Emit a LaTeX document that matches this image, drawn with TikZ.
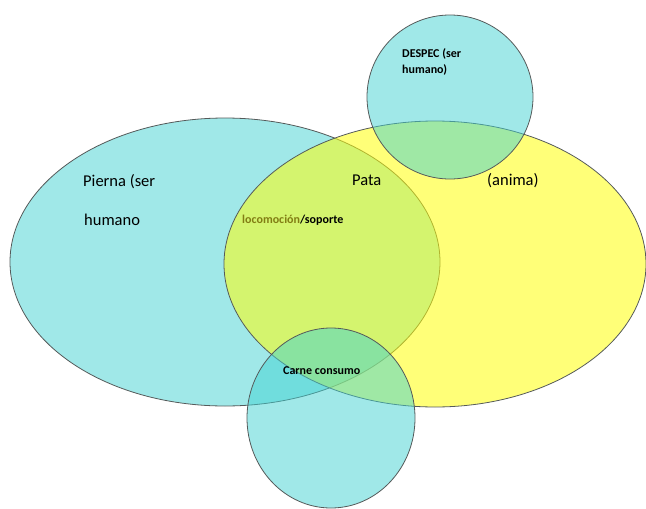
\documentclass[tikz,border=0pt]{standalone}
\usepackage{fontspec}
\setmainfont{Carlito}
\usetikzlibrary{positioning}
\definecolor{venncyan}{RGB}{65,210,210}
\definecolor{vennyellow}{RGB}{255,255,10}
\definecolor{vennline}{RGB}{85,90,90}
\definecolor{vennolive}{RGB}{130,125,20}

\begin{document}
\begin{tikzpicture}[
          x=1pt, y=-1pt,
          every node/.style={font=\fontsize{16.5}{19}\selectfont, anchor=base west, inner sep=0pt},
          small/.style={font=\fontsize{12}{14}\selectfont\bfseries},
          set/.style={draw=vennline, line width=0.8pt},
        ]
        \useasboundingbox (0,0) rectangle (646,509);

        % Main sets
        \filldraw[set, fill=venncyan, fill opacity=0.5] (225,262) ellipse [x radius=215pt, y radius=144pt];
        \filldraw[set, fill=vennyellow, fill opacity=0.55] (435,264) ellipse [x radius=211pt, y radius=143pt];

        % Small circles
        \foreach \cx/\cy/\rx/\ry in {450/97/83/82, 331/418/84/90} {
          \filldraw[set, fill=venncyan, fill opacity=0.5] (\cx,\cy) ellipse [x radius=\rx pt, y radius=\ry pt];
        }

        % Labels
        \node (pierna) at (83,186) {Pierna (ser};
        \node (humano) at (84,225) {humano};
        \node (pata) at (352,185) {Pata};
        \node (anima) at (487,185) {(anima)};
        \node[small] (despec) at (402,57) {DESPEC (ser};
        \node[small] (despech) at (402,73) {humano)};
        \node[small] (loco) at (242,223) {\textcolor{vennolive}{locomoción}/soporte};
        \node[small] (carne) at (283,374) {Carne consumo};
      \end{tikzpicture}
\end{document}
